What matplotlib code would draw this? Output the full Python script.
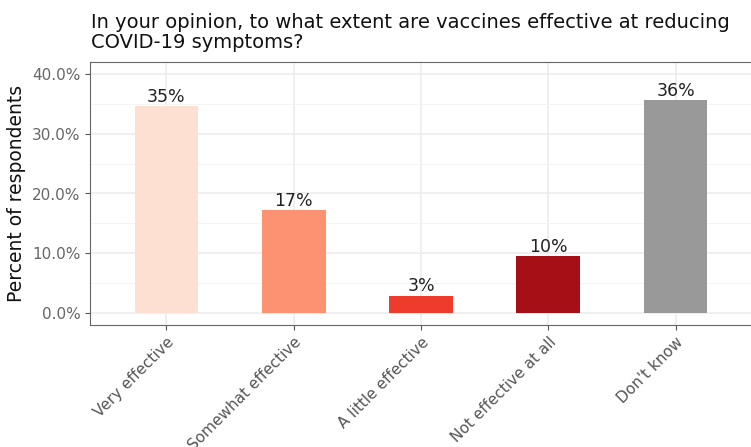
import matplotlib
matplotlib.use("Agg")
import matplotlib.pyplot as plt
import matplotlib.ticker as ticker

categories = ["Very effective", "Somewhat effective", "A little effective",
              "Not effective at all", "Don't know"]
percents = [34.6, 17.2, 2.9, 9.5, 35.6]
labels = ["35%", "17%", "3%", "10%", "36%"]
colors = ["#FEE0D2", "#FC9272", "#EF3B2C", "#A50F15", "#999999"]
yticks = [0, 10, 20, 30, 40]

plt.rcParams["font.family"] = ["DejaVu Sans"]

fig = plt.figure(figsize=(7.51, 4.47), dpi=100)
ax = fig.add_axes([90 / 751, 122 / 447, 662 / 751, 263 / 447])

x = list(range(len(categories)))
ax.bar(x, percents, width=0.5, color=colors, zorder=3)
for xi, p, lab in zip(x, percents, labels):
    ax.text(xi, p + 0.1, lab, ha="center", va="bottom", fontsize=12.5,
            color="#222222", zorder=4)

ax.set_xlim(-0.6, 4.6)
ax.set_ylim(-2.0, 42.0)
ax.set_yticks(yticks)
ax.yaxis.set_major_formatter(ticker.FuncFormatter(lambda v, pos: f"{v:.1f}%"))
ax.yaxis.set_minor_locator(ticker.MultipleLocator(5))
ax.set_xticks(x)
ax.set_xticklabels(categories, rotation=45, ha="right", rotation_mode="anchor")

ax.grid(True, which="major", color="#EBEBEB", linewidth=1.1, zorder=0)
ax.grid(True, which="minor", axis="y", color="#F2F2F2", linewidth=0.6, zorder=0)
ax.tick_params(axis="both", which="major", colors="#555555", labelcolor="#666666",
               labelsize=11, length=3.5, width=0.8)
ax.tick_params(axis="x", which="major", labelcolor="#555555")
ax.tick_params(axis="y", which="minor", length=0)
for s in ax.spines.values():
    s.set_color("#666666")
    s.set_linewidth(0.8)

ax.set_ylabel("Percent of respondents", fontsize=13.5, color="#111111", labelpad=4)
fig.text(91 / 751, 1 - 13 / 447,
         "In your opinion, to what extent are vaccines effective at reducing\nCOVID-19 symptoms?",
         ha="left", va="top", fontsize=14, color="#111111", linespacing=1.1)

fig.savefig("out.png", dpi=100)
